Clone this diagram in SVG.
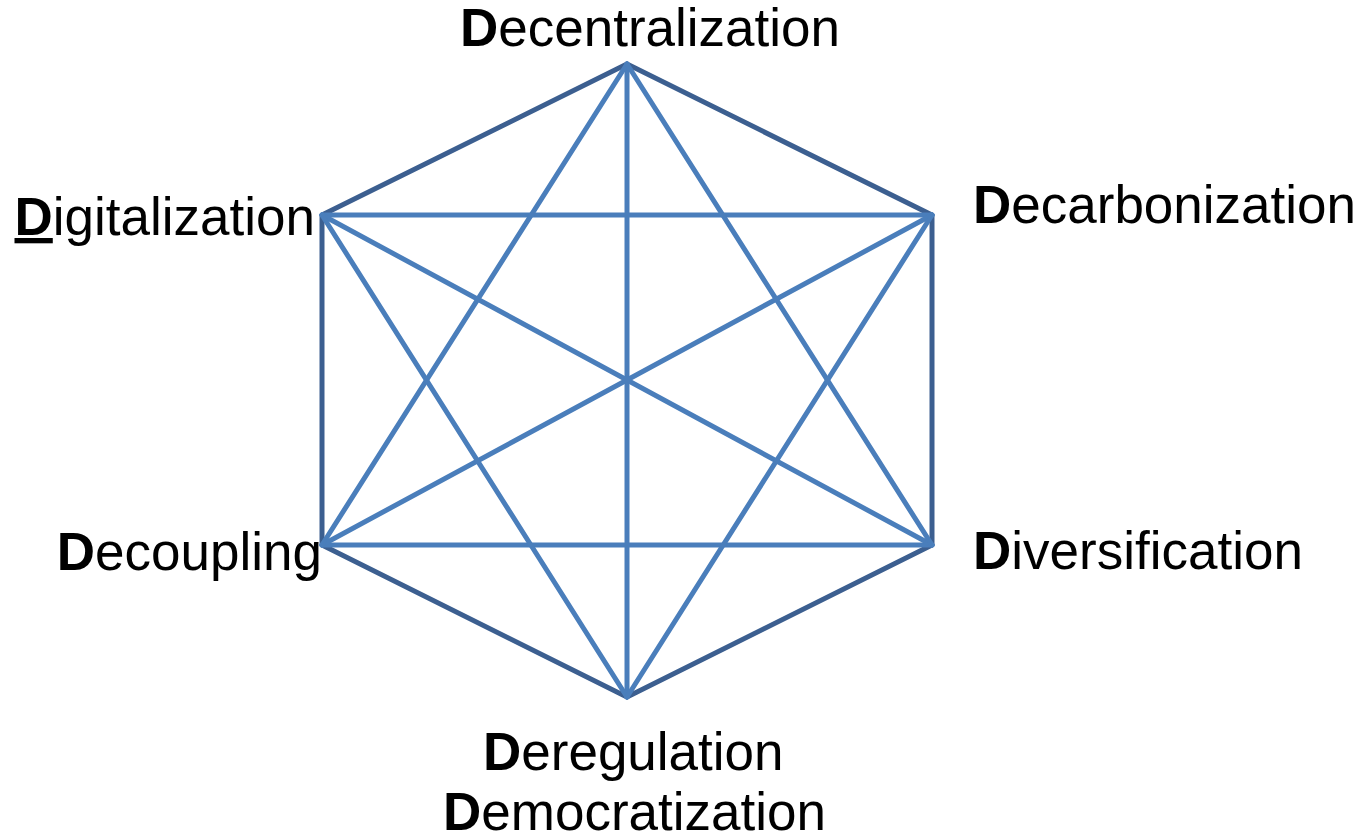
<svg xmlns="http://www.w3.org/2000/svg" width="1364" height="838" viewBox="0 0 1364 838">
<style>
.outer{stroke:#3c5f90;stroke-width:5;fill:none;stroke-linecap:round;stroke-linejoin:round}
.inner{stroke:#4a7ebb;stroke-width:5;fill:none;stroke-linecap:round}
.lbl{font-family:"Liberation Sans",Arial,sans-serif;font-size:53px;fill:#000}
.b{font-weight:bold}
</style>
<rect width="1364" height="838" fill="#fff"/>
<g id="connectors">
<polygon class="outer" points="627,64 932,215 932,545 627,697 322,545 322,215"/>
<line class="inner" x1="322" y1="215" x2="932" y2="215"/>
<line class="inner" x1="322" y1="545" x2="932" y2="545"/>
<line class="inner" x1="627" y1="64" x2="627" y2="697"/>
<line class="inner" x1="322" y1="215" x2="932" y2="545"/>
<line class="inner" x1="932" y1="215" x2="322" y2="545"/>
<line class="inner" x1="627" y1="64" x2="322" y2="545"/>
<line class="inner" x1="627" y1="64" x2="932" y2="545"/>
<line class="inner" x1="627" y1="697" x2="322" y2="215"/>
<line class="inner" x1="627" y1="697" x2="932" y2="215"/>
</g>
<g id="decentralization"><text class="lbl" x="460" y="46"><tspan class="b">D</tspan>ecentralization</text></g>
<g id="decarbonization"><text class="lbl" x="973" y="223"><tspan class="b">D</tspan>ecarbonization</text></g>
<g id="digitalization"><text class="lbl" x="315" y="235" text-anchor="end"><tspan class="b" text-decoration="underline">D</tspan>igitalization</text></g>
<g id="decoupling"><text class="lbl" x="322" y="570" text-anchor="end"><tspan class="b">D</tspan>ecoupling</text></g>
<g id="diversification"><text class="lbl" x="973" y="569"><tspan class="b">D</tspan>iversification</text></g>
<g id="deregulation"><text class="lbl" x="483" y="770"><tspan class="b">D</tspan>eregulation</text>
<text class="lbl" x="443" y="830"><tspan class="b">D</tspan>emocratization</text></g>
</svg>
